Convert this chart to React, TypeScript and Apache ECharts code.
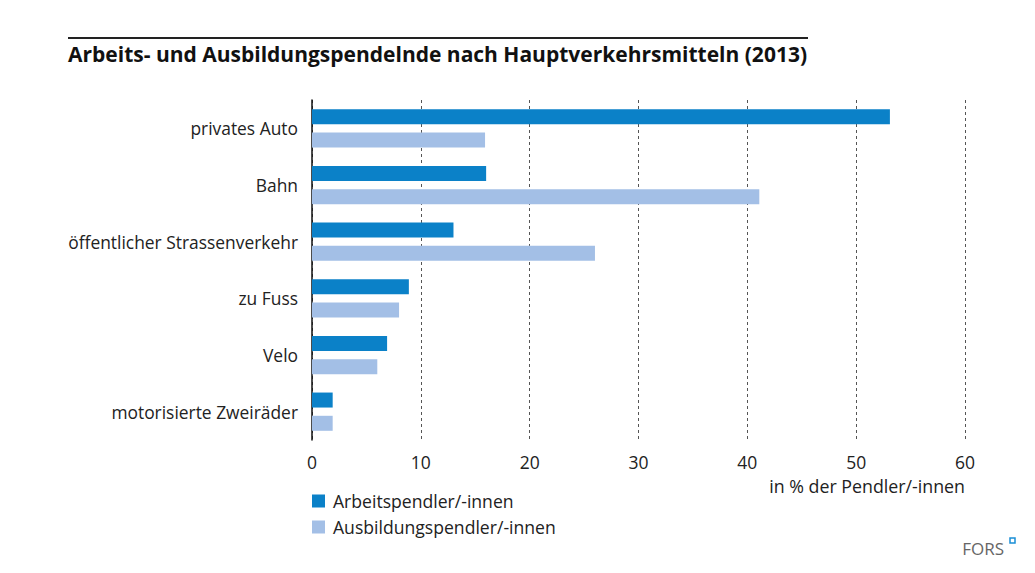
import React, { useEffect, useRef } from "react";
import * as echarts from "echarts";

const categories = [
  "privates Auto",
  "Bahn",
  "öffentlicher Strassenverkehr",
  "zu Fuss",
  "Velo",
  "motorisierte Zweiräder",
];
const arbeit = [53.1, 16, 13, 8.9, 6.9, 1.9];
const ausbildung = [15.9, 41.1, 26, 8, 6, 1.9];
const seriesNames = ["Arbeitspendler/-innen", "Ausbildungspendler/-innen"];
const xTicks = [0, 10, 20, 30, 40, 50, 60];

const FONT = "'Open Sans', 'Noto Sans', sans-serif";

export default function App() {
  const ref = useRef<HTMLDivElement>(null);
  useEffect(() => {
    if (!ref.current) return;
    const chart = echarts.init(ref.current, undefined, { renderer: "svg" });
    chart.setOption({
      animation: false,
      backgroundColor: "#ffffff",
      textStyle: { fontFamily: FONT },
      grid: { left: 304, right: 62, top: 92, height: 340, containLabel: false },
      xAxis: {
        type: "value",
        min: xTicks[0],
        max: xTicks[xTicks.length - 1],
        interval: 10,
        axisLine: { show: false },
        axisTick: { show: false },
        axisLabel: { color: "#222", fontSize: 17.5, margin: 13, fontFamily: FONT },
        splitLine: {
          show: true,
          lineStyle: { color: "#555", width: 1, type: [3, 3] },
        },
      },
      yAxis: {
        type: "category",
        data: categories,
        inverse: true,
        axisLine: { show: true, lineStyle: { color: "#111", width: 1.5 } },
        axisTick: { show: false },
        axisLabel: { color: "#222", fontSize: 17.4, margin: 14, fontFamily: FONT },
      },
      legend: {
        orient: "vertical",
        left: 299,
        top: 479,
        icon: "rect",
        itemWidth: 13,
        itemHeight: 13,
        itemGap: 8,
        textStyle: {
          color: "#222",
          fontSize: 17.6,
          lineHeight: 17,
          fontFamily: FONT,
          padding: [0, 0, 0, 3],
        },
        data: seriesNames,
      },
      series: [
        {
          name: seriesNames[0],
          type: "bar",
          data: arbeit,
          barWidth: 15,
          barGap: "55%",
          itemStyle: { color: "#0b81c8" },
        },
        {
          name: seriesNames[1],
          type: "bar",
          data: ausbildung,
          barWidth: 15,
          itemStyle: { color: "#a3bfe6" },
        },
      ],
      graphic: [
        {
          type: "line",
          shape: { x1: 60, y1: 30, x2: 800, y2: 30 },
          style: { stroke: "#222", lineWidth: 2 },
        },
        {
          type: "text",
          left: 60,
          top: 35,
          style: {
            text: "Arbeits- und Ausbildungspendelnde nach Hauptverkehrsmitteln (2013)",
            fill: "#111",
            font: `bold 21px ${FONT}`,
          },
        },
        {
          type: "text",
          x: 957,
          y: 478,
          style: {
            text: "in % der Pendler/-innen",
            fill: "#222",
            font: `17.8px ${FONT}`,
            textAlign: "right",
            textVerticalAlign: "middle",
          },
        },
        {
          type: "text",
          x: 996,
          y: 540,
          style: {
            text: "FORS",
            fill: "#666",
            font: `17px ${FONT}`,
            textAlign: "right",
            textVerticalAlign: "middle",
          },
        },
        {
          type: "rect",
          shape: { x: 1002, y: 530, width: 5, height: 5 },
          style: { fill: "#fff", stroke: "#1a8fd6", lineWidth: 1.5 },
        },
      ],
    });
    return () => chart.dispose();
  }, []);
  return <div ref={ref} style={{ width: 1019, height: 557 }} />;
}
